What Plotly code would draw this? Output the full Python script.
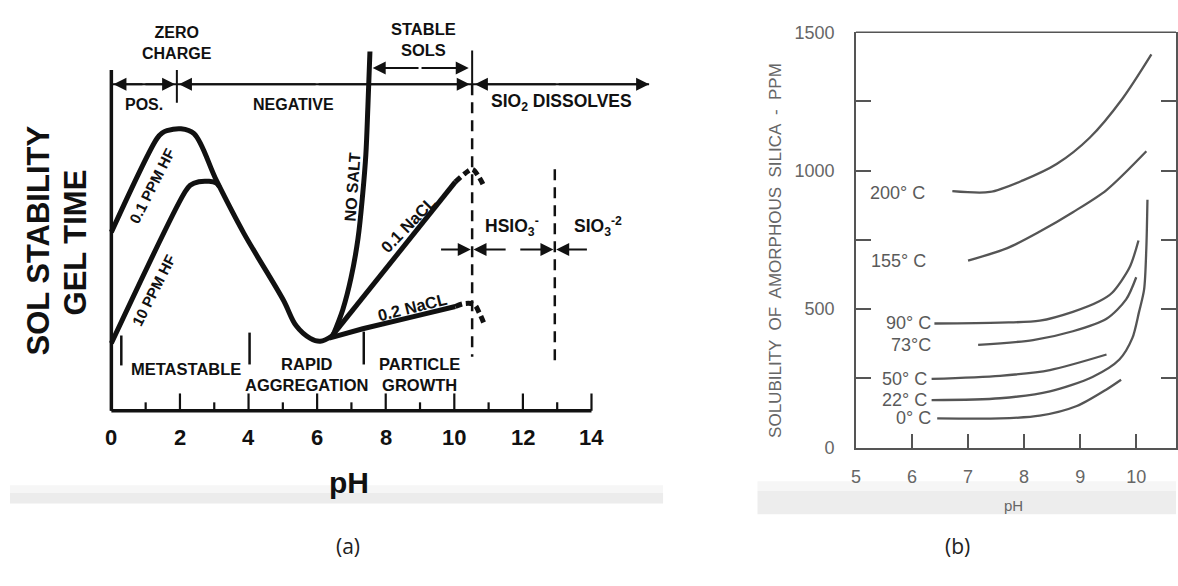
import plotly.graph_objects as go

# ================= Panel (a): sol stability / gel time vs pH =================
A_TICKS_MAJOR = [0, 2, 4, 6, 8, 10, 12, 14]
A_TICKS_MINOR = [1, 3, 5, 7, 9, 11, 13]
A_TICK_LABELS = ["0", "2", "4", "6", "8", "10", "12", "14"]

# 0.1 PPM HF curve (continues down into the shared minimum)
HF01_PH = [0.0, 1.33, 1.48, 1.62, 2.03, 2.41, 3.07, 3.86, 5.01, 5.39, 5.80, 6.09, 6.46]
HF01_S = [4.625, 7.05, 7.19, 7.25, 7.30, 7.175, 5.95, 4.60, 2.875, 2.20, 1.875, 1.80, 1.95]
# 10 PPM HF curve (joins the falling branch)
HF10_PH = [0.0, 2.12, 2.30, 2.55, 2.85, 3.05, 3.15]
HF10_S = [1.75, 5.625, 5.84, 5.93, 5.94, 5.90, 5.80]
# No salt branch
NOSALT_PH = [6.46, 6.75, 6.99, 7.19, 7.33, 7.42, 7.48, 7.54]
NOSALT_S = [1.95, 2.625, 3.45, 4.45, 5.625, 6.625, 7.875, 9.30]
# 0.1 NaCl branch + dashed hook
NACL01_PH = [6.40, 10.03]
NACL01_S = [1.90, 5.925]
NACL01_HOOK_PH = [10.03, 10.32, 10.52, 10.72, 10.87]
NACL01_HOOK_S = [5.925, 6.15, 6.25, 6.05, 5.80]
# 0.2 NaCl branch + dashed hook
NACL02_PH = [6.35, 7.33, 8.87, 10.03]
NACL02_S = [1.88, 2.125, 2.45, 2.70]
NACL02_HOOK_PH = [10.03, 10.29, 10.58, 10.72, 10.87]
NACL02_HOOK_S = [2.70, 2.775, 2.75, 2.55, 2.25]

# frame / markers
A_LEFT_TOP = 8.825
TOP_LINE_S = 8.45
TOP_LINE_END = 15.68
ZERO_CHARGE_PH = 1.91
ZERO_CHARGE_TICK = [7.975, 8.825]
STABLE_EDGE_PH = 10.52
STABLE_EDGE_TICK = [8.45, 9.325]
DASH_PH = [10.52, 12.93]
DASH_TOP = [8.45, 6.25]
DASH_BOTTOM = [1.40, 1.25]
SPLIT_PH = [0.29, 4.03, 7.36]
SPLIT_TOP = [1.95, 2.025, 2.05]
SPLIT_BOTTOM = [1.175, 1.20, 1.20]

# arrows: (tail pH, tip pH, level)
ARROWS = [
    (0.95, 0.06, 8.45), (0.95, 1.86, 8.45),
    (6.0, 1.97, 8.45), (6.0, 10.45, 8.45),
    (13.0, 10.60, 8.45), (13.0, 15.68, 8.45),
    (9.0, 7.62, 8.875), (9.0, 10.42, 8.875),
    (9.57, 10.48, 4.175), (11.54, 10.56, 4.175),
    (11.88, 12.89, 4.175), (13.91, 12.97, 4.175),
]

# labels: (text, pH, level, size, angle)
A_LABELS = [
    ("ZERO<br>CHARGE", 1.91, 9.53, 16, 0),
    ("POS.", 0.96, 7.93, 16, 0),
    ("NEGATIVE", 5.30, 7.93, 16, 0),
    ("STABLE<br>SOLS", 9.09, 9.60, 16.5, 0),
    ("SIO<sub>2</sub> DISSOLVES", 13.13, 7.98, 17.5, 0),
    ("HSIO<sub>3</sub><sup>-</sup>", 11.68, 4.77, 17.5, 0),
    ("SIO<sub>3</sub><sup>-2</sup>", 14.20, 4.77, 17.5, 0),
    ("METASTABLE", 2.17, 1.08, 16.5, 0),
    ("RAPID<br>AGGREGATION", 5.68, 0.95, 16.5, 0),
    ("PARTICLE<br>GROWTH", 8.99, 0.95, 16.5, 0),
    ("0.1 PPM HF", 1.19, 5.83, 15, -63),
    ("10 PPM HF", 1.25, 3.13, 15, -63),
    ("NO SALT", 7.04, 5.80, 16, -86),
    ("0.1 NaCL", 8.67, 4.83, 16.5, -46),
    ("0.2 NaCL", 8.78, 2.68, 16.5, -14),
]

# ================= Panel (b): solubility of amorphous silica =================
B_XTICKS = [5, 6, 7, 8, 9, 10]
B_YTICKS = [0, 250, 500, 750, 1000, 1250, 1500]
B_YTICK_TEXT = ["0", "", "500", "", "1000", "", "1500"]

T200_PH = [6.72, 7.39, 7.98, 8.58, 9.17, 9.75, 10.27]
T200 = [926, 923, 965, 1024, 1119, 1259, 1420]
T155_PH = [7.00, 7.70, 8.28, 8.87, 9.47, 10.18]
T155 = [675, 720, 780, 850, 930, 1070]
T90_PH = [6.40, 7.57, 8.28, 8.87, 9.34, 9.57, 9.88, 10.04]
T90 = [448, 451, 458, 490, 528, 559, 650, 748]
T73_PH = [7.18, 8.16, 8.87, 9.47, 9.82, 10.00]
T73 = [371, 388, 420, 465, 535, 615]
T50_PH = [6.35, 7.57, 8.46, 9.47]
T50 = [248, 259, 280, 336]
T22_PH = [6.35, 7.57, 8.46, 9.22, 9.70, 9.93, 10.05, 10.14, 10.18, 10.20]
T22 = [171, 178, 203, 255, 318, 395, 490, 570, 720, 895]
T0_PH = [6.45, 7.57, 8.28, 8.94, 9.47, 9.73]
T0 = [105, 105, 115, 150, 210, 245]

B_SERIES = [
    ("200° C", T200_PH, T200, 6.27, 920),
    ("155° C", T155_PH, T155, 6.29, 675),
    ("90° C", T90_PH, T90, 6.38, 448),
    ("73°C", T73_PH, T73, 6.38, 371),
    ("50° C", T50_PH, T50, 6.30, 248),
    ("22° C", T22_PH, T22, 6.30, 171),
    ("0° C", T0_PH, T0, 6.37, 105),
]

# ---------------------------------------------------------------------------
W, H = 1178, 586
BLACK = "#111111"
GREY = "#555555"
FONT_A = "Liberation Sans"
FONT_B = "Liberation Sans"

fig = go.Figure()

def seg_xy(xs, y0s, y1s):
    X, Y = [], []
    for x, a, b in zip(xs, y0s, y1s):
        X += [x, x, None]
        Y += [a, b, None]
    return X, Y

def add_a(x, y, width, dash="solid", shape="linear"):
    fig.add_trace(go.Scatter(x=x, y=y, mode="lines", xaxis="x", yaxis="y",
                             line=dict(color=BLACK, width=width, dash=dash, shape=shape),
                             hoverinfo="skip", showlegend=False, cliponaxis=False))

# frame of panel (a)
add_a([0, 0, None, 0, 14], [A_LEFT_TOP, 0, None, 0, 0], 3.5)
mx, my = seg_xy(A_TICKS_MAJOR, [0] * len(A_TICKS_MAJOR), [0.45] * len(A_TICKS_MAJOR))
add_a(mx, my, 2.2)
nx, ny = seg_xy(A_TICKS_MINOR, [0] * len(A_TICKS_MINOR), [0.22] * len(A_TICKS_MINOR))
add_a(nx, ny, 2.2)
# top line and ticks
add_a([0, TOP_LINE_END], [TOP_LINE_S, TOP_LINE_S], 2)
tx, ty = seg_xy([ZERO_CHARGE_PH, STABLE_EDGE_PH], [ZERO_CHARGE_TICK[0], STABLE_EDGE_TICK[0]],
                [ZERO_CHARGE_TICK[1], STABLE_EDGE_TICK[1]])
add_a(tx, ty, 2)
dx, dy = seg_xy(DASH_PH, DASH_TOP, DASH_BOTTOM)
add_a(dx, dy, 2.5, dash="11px,7px")
sx, sy = seg_xy(SPLIT_PH, SPLIT_TOP, SPLIT_BOTTOM)
add_a(sx, sy, 2.5)
# curves
add_a(HF01_PH, HF01_S, 5, shape="spline")
add_a(HF10_PH, HF10_S, 5, shape="spline")
add_a(NOSALT_PH, NOSALT_S, 5, shape="spline")
add_a(NACL01_PH, NACL01_S, 5)
add_a(NACL02_PH, NACL02_S, 5)
add_a(NACL01_HOOK_PH, NACL01_HOOK_S, 5, dash="7px,4px", shape="spline")
add_a(NACL02_HOOK_PH, NACL02_HOOK_S, 5, dash="7px,4px", shape="spline")

annotations = []
for tail, tip, lvl in ARROWS:
    annotations.append(dict(x=tip, y=lvl, ax=tail, ay=lvl, xref="x", yref="y",
                            axref="x", ayref="y", showarrow=True, arrowhead=2,
                            arrowsize=1.3, arrowwidth=2, arrowcolor=BLACK,
                            standoff=0, startstandoff=0, text=""))
for text, x, y, size, ang in A_LABELS:
    annotations.append(dict(x=x, y=y, xref="x", yref="y", text=text, showarrow=False,
                            xanchor="center", yanchor="middle",
                            textangle=ang, font=dict(family=FONT_A, size=size,
                                                     color=BLACK, weight="bold")))
for v, lab in zip(A_TICKS_MAJOR, A_TICK_LABELS):
    annotations.append(dict(x=v, y=-0.70, xref="x", yref="y", text=lab, showarrow=False,
                            xanchor="center", yanchor="middle",
                            font=dict(family=FONT_A, size=22, color=BLACK, weight="bold")))
annotations += [
    dict(x=6.93, y=-1.85, xref="x", yref="y", text="pH", showarrow=False,
         xanchor="center", yanchor="middle",
         font=dict(family=FONT_A, size=30, color=BLACK, weight="bold")),
    dict(x=-2.12, y=4.40, xref="x", yref="y", text="SOL STABILITY", showarrow=False,
         xanchor="center", yanchor="middle",
         textangle=-90, font=dict(family=FONT_A, size=31, color=BLACK, weight="bold")),
    dict(x=-1.04, y=4.35, xref="x", yref="y", text="GEL TIME", showarrow=False,
         xanchor="center", yanchor="middle",
         textangle=-90, font=dict(family=FONT_A, size=31, color=BLACK, weight="bold")),
]

# ---------------- panel (b) ----------------
for name, xs, ys, lx, ly in B_SERIES:
    fig.add_trace(go.Scatter(x=xs, y=ys, mode="lines", xaxis="x2", yaxis="y2",
                             line=dict(color=GREY, width=2.3, shape="spline", smoothing=0.8),
                             name=name, hoverinfo="skip", showlegend=False, cliponaxis=False))
    annotations.append(dict(x=lx, y=ly, xref="x2", yref="y2", text=name, showarrow=False,
                            xanchor="right", yanchor="middle",
                            font=dict(family=FONT_B, size=18, color="#5a5a5a")))

annotations += [
    dict(x=775 / W, y=1 - 249 / H, xref="paper", yref="paper", showarrow=False,
         xanchor="center", yanchor="middle",
         text="SOLUBILITY  OF  AMORPHOUS  SILICA  -  PPM", textangle=-90,
         font=dict(family=FONT_B, size=17, color="#666666")),
    dict(x=1015 / W, y=1 - 513 / H, xref="paper", yref="paper", showarrow=False,
         xanchor="center", yanchor="middle",
         text="pH", font=dict(family=FONT_B, size=15, color="#666666")),
    dict(x=345 / W, y=1 - 555 / H, xref="paper", yref="paper", showarrow=False,
         xanchor="center", yanchor="middle",
         text="(a)", font=dict(family="Open Sans", size=21, color="#222222")),
    dict(x=958 / W, y=1 - 555 / H, xref="paper", yref="paper", showarrow=False,
         xanchor="center", yanchor="middle",
         text="(b)", font=dict(family="Open Sans", size=21, color="#222222")),
]

shapes = [
    # faint grey bands under the two scanned figures
    dict(type="rect", xref="paper", yref="paper", x0=5 / W, x1=662 / W,
         y0=1 - 511 / H, y1=1 - 500 / H, fillcolor="#ececec", line=dict(width=0), layer="below"),
    dict(type="rect", xref="paper", yref="paper", x0=5 / W, x1=662 / W,
         y0=1 - 500 / H, y1=1 - 492 / H, fillcolor="#f6f6f6", line=dict(width=0), layer="below"),
    dict(type="rect", xref="paper", yref="paper", x0=757 / W, x1=1,
         y0=1 - 522 / H, y1=1 - 498 / H, fillcolor="#ededed", line=dict(width=0), layer="below"),
    dict(type="rect", xref="paper", yref="paper", x0=757 / W, x1=1,
         y0=1 - 498 / H, y1=1 - 488 / H, fillcolor="#f6f6f6", line=dict(width=0), layer="below"),
    # top frame line of panel (b)
    dict(type="line", xref="x2 domain", yref="y2 domain", x0=0, x1=1, y0=1, y1=1,
         line=dict(color=GREY, width=1.6)),
]

fig.update_layout(
    width=W, height=H, margin=dict(l=0, r=0, t=0, b=0),
    paper_bgcolor="white", plot_bgcolor="rgba(0,0,0,0)",
    showlegend=False,
    xaxis=dict(domain=[0, 700 / W], range=[-107 / 34.5, (700 - 107) / 34.5], visible=False),
    yaxis=dict(domain=[0, 1], range=[(415 - 586) / 40, 415 / 40], visible=False),
    xaxis2=dict(domain=[856 / W, 1], range=[5, 5 + (W - 856) / 56.4], anchor="y2",
                tickvals=B_XTICKS, ticktext=[str(v) for v in B_XTICKS],
                ticks="inside", ticklen=14, tickwidth=1.5, tickcolor=GREY,
                showline=True, linecolor=GREY, linewidth=1.6, showgrid=False, zeroline=False,
                ticklabelstandoff=12,
                tickfont=dict(family=FONT_B, size=18, color="#666666")),
    yaxis2=dict(domain=[1 - 453 / H, 1 - 23 / H], range=[0, 1500], anchor="x2",
                tickvals=B_YTICKS, ticktext=B_YTICK_TEXT,
                ticks="inside", ticklen=15, tickwidth=1.5, tickcolor=GREY, mirror="ticks",
                showline=True, linecolor=GREY, linewidth=1.6, showgrid=False, zeroline=False,
                ticklabelstandoff=16,
                tickfont=dict(family=FONT_B, size=18, color="#666666")),
    annotations=annotations,
    shapes=shapes,
)

fig.write_html("out.html")
